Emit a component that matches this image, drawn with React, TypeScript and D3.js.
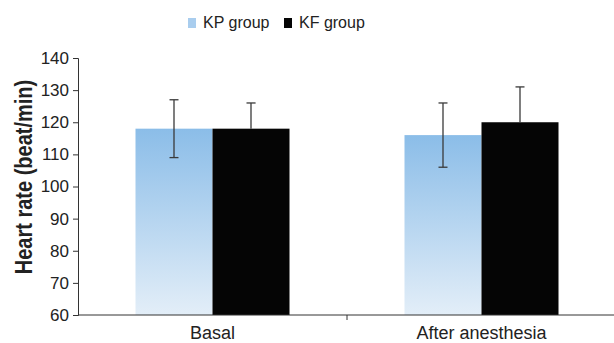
import React, { useEffect, useRef } from 'react';
import * as d3 from 'd3';

const categories = ['Basal', 'After anesthesia'];
const groups = ['KP group', 'KF group'];
const kpMeans = [118, 116];
const kpErrors = [9, 10];
const kfMeans = [118, 120];
const kfErrors = [8, 11];
const yTicks = [60, 70, 80, 90, 100, 110, 120, 130, 140];

export default function App() {
    const ref = useRef<SVGSVGElement | null>(null);

    useEffect(() => {
        const svgEl = ref.current;
        if (!svgEl) return;
        const svg = d3.select(svgEl);
        svg.selectAll('*').remove();

        const width = 614;
        const height = 343;
        const margin = { top: 58, right: -2, bottom: 28, left: 78 };
        const font = 'Liberation Sans, Arial, sans-serif';

        const x = d3.scaleBand().domain(categories).range([margin.left, width - margin.right]);
        const inner = d3.scaleBand().domain(groups).range([0, 154]);
        const y = d3.scaleLinear().domain([60, 140]).range([height - margin.bottom, margin.top]);

        const defs = svg.append('defs');
        const grad = defs.append('linearGradient').attr('id', 'kpGrad')
            .attr('x1', 0).attr('y1', 0).attr('x2', 0).attr('y2', 1);
        grad.append('stop').attr('offset', '0%').attr('stop-color', '#8bbde8');
        grad.append('stop').attr('offset', '100%').attr('stop-color', '#e3eef8');

        const rows = categories.map((c, i) => [
            { cat: c, group: groups[0], mean: kpMeans[i], err: kpErrors[i] },
            { cat: c, group: groups[1], mean: kfMeans[i], err: kfErrors[i] },
        ]).flat();

        const bx = (d: any) => (x(d.cat) as number) + (x.bandwidth() - 154) / 2 + (inner(d.group) as number);

        svg.append('g').selectAll('rect').data(rows).join('rect')
            .attr('x', bx)
            .attr('y', d => y(d.mean))
            .attr('width', inner.bandwidth())
            .attr('height', d => y(60) - y(d.mean))
            .attr('fill', d => d.group === groups[0] ? 'url(#kpGrad)' : '#050505');

        // error bars (lower whisker only visible on the light bars)
        const eb = svg.append('g').attr('stroke', '#3a3a3a').attr('stroke-width', 1.3);
        rows.forEach(d => {
            const cx = bx(d) + inner.bandwidth() / 2;
            const light = d.group === groups[0];
            const lo = light ? d.mean - d.err : d.mean;
            eb.append('line').attr('x1', cx).attr('x2', cx).attr('y1', y(d.mean + d.err)).attr('y2', y(lo));
            const caps = light ? [d.mean + d.err, d.mean - d.err] : [d.mean + d.err];
            caps.forEach(v => {
                eb.append('line').attr('x1', cx - 4.5).attr('x2', cx + 4.5).attr('y1', y(v)).attr('y2', y(v));
            });
        });

        // y axis
        const yAxis = svg.append('g')
            .attr('transform', `translate(${margin.left},0)`)
            .call(d3.axisLeft(y).tickValues(yTicks).tickSize(5).tickPadding(4));
        yAxis.selectAll('path, line').attr('stroke', '#333');
        yAxis.selectAll('text').attr('font-family', font).attr('font-size', 17).attr('fill', '#222');

        // x axis
        const base = y(60);
        svg.append('line').attr('x1', margin.left).attr('x2', width).attr('y1', base).attr('y2', base)
            .attr('stroke', '#333');
        const mid = (x(categories[1]) as number);
        svg.append('line').attr('x1', mid).attr('x2', mid).attr('y1', base).attr('y2', base + 5).attr('stroke', '#333');
        svg.append('g').selectAll('text').data(categories).join('text')
            .attr('x', d => (x(d) as number) + x.bandwidth() / 2)
            .attr('y', base + 24)
            .attr('text-anchor', 'middle')
            .attr('font-family', font).attr('font-size', 18).attr('fill', '#222')
            .text(d => d);

        // y title
        svg.append('text')
            .attr('transform', `translate(32,177) rotate(-90) scale(1,1.15)`)
            .attr('text-anchor', 'middle')
            .attr('font-family', font).attr('font-size', 20).attr('font-weight', 'bold').attr('fill', '#222')
            .text('Heart rate (beat/min)');

        // legend
        const legend = svg.append('g');
        const lx = [188, 284];
        groups.forEach((g, i) => {
            legend.append('rect').attr('x', lx[i]).attr('y', 18).attr('width', 8).attr('height', 10)
                .attr('fill', i === 0 ? '#a9cdee' : '#050505');
            legend.append('text').attr('x', lx[i] + 15).attr('y', 28)
                .attr('font-family', font).attr('font-size', 16).attr('fill', '#222')
                .text(g);
        });
    }, []);

    return (
        <div style={{ position: 'fixed', left: 0, top: 0, background: '#fff' }}>
            <svg ref={ref} width={614} height={343} />
        </div>
    );
}
